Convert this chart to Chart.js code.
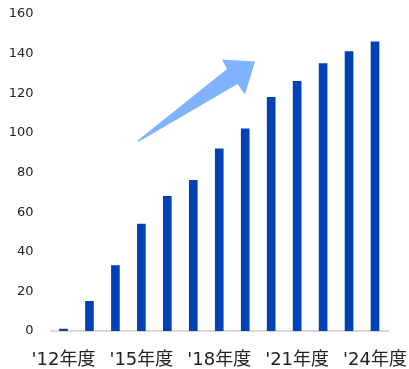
<!DOCTYPE html>
<html lang="ja">
<head>
  <meta charset="UTF-8" />
  <title>年度推移</title>
  <script src="https://cdn.jsdelivr.net/npm/chart.js"></script>
  <style>
    html, body {
      margin: 0;
      padding: 0;
      background: #fff;
    }
    #wrap {
      width: 409px;
      height: 369px;
    }
  </style>
</head>
<body>
  <div id="wrap"><canvas id="yearChart" width="409" height="369"></canvas></div>

  <script>
    // 年度ラベルと値
    const years = ["'12年度", "'13年度", "'14年度", "'15年度", "'16年度", "'17年度", "'18年度",
                   "'19年度", "'20年度", "'21年度", "'22年度", "'23年度", "'24年度"];
    const values = [1, 15, 33, 54, 68, 76, 92, 102, 118, 126, 135, 141, 146];
    const yTicks = [0, 20, 40, 60, 80, 100, 120, 140, 160];

    // 右上がりの矢印（装飾）
    const arrowPlugin = {
      id: 'arrow',
      afterDatasetsDraw(chart) {
        const ctx = chart.ctx;
        ctx.save();
        ctx.fillStyle = '#80b3ff';
        ctx.beginPath();
        ctx.moveTo(137, 141);
        ctx.lineTo(227, 69);
        ctx.lineTo(222, 59.5);
        ctx.lineTo(255, 61.5);
        ctx.lineTo(245, 94.5);
        ctx.lineTo(237.5, 84);
        ctx.lineTo(139, 141.5);
        ctx.closePath();
        ctx.fill();
        ctx.restore();
      }
    };

    const ctx = document.getElementById('yearChart').getContext('2d');
    new Chart(ctx, {
      type: 'bar',
      data: {
        labels: years,
        datasets: [{
          data: values,
          backgroundColor: '#0042b6',
          barThickness: 8
        }]
      },
      options: {
        responsive: false,
        animation: false,
        layout: { padding: { top: 14, right: 21, left: 0, bottom: 0 } },
        plugins: {
          legend: { display: false },
          tooltip: { enabled: false }
        },
        scales: {
          x: {
            afterFit: (axis) => {
              axis.height = 38;
              axis.paddingLeft = 0;
              axis.paddingRight = 0;
            },
            grid: { display: false, drawTicks: false },
            border: { display: true, color: '#d9d9d9', width: 2 },
            ticks: {
              autoSkip: false,
              maxRotation: 0,
              padding: 19,
              color: '#222',
              font: { family: 'DejaVu Sans, "Noto Sans CJK JP"', size: 18 },
              callback: (v, i) => (i % 3 === 0 ? years[i] : '')
            }
          },
          y: {
            min: 0,
            max: 160,
            afterBuildTicks: (axis) => { axis.ticks = yTicks.map(v => ({ value: v })); },
            afterFit: (axis) => {
              axis.width = 50.5;
              axis.paddingTop = 0;
              axis.paddingBottom = 0;
            },
            grid: { display: false, drawTicks: false },
            border: { display: false },
            ticks: {
              padding: 17,
              color: '#222',
              font: { family: 'DejaVu Sans', size: 13 }
            }
          }
        }
      },
      plugins: [arrowPlugin]
    });
  </script>
</body>
</html>
